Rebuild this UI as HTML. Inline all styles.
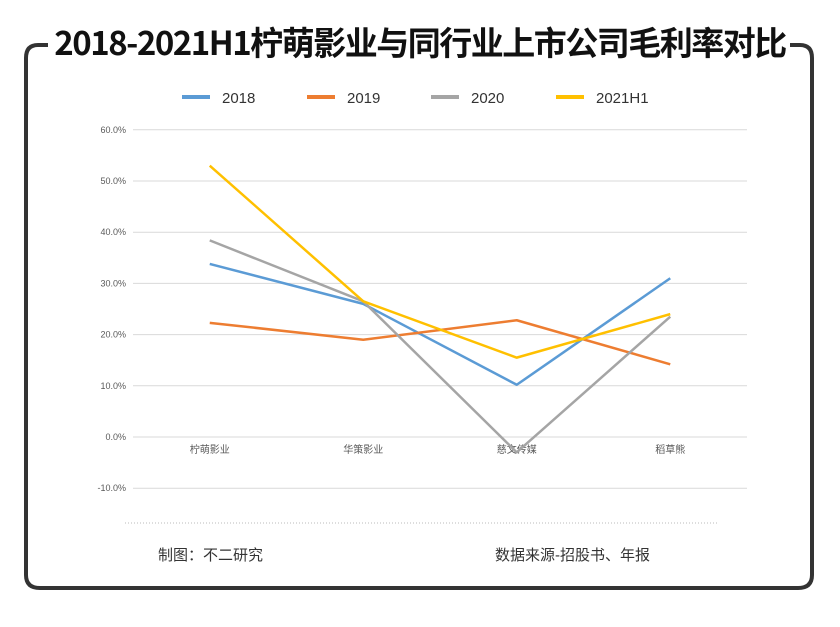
<!DOCTYPE html>
<html><head><meta charset="utf-8"><style>
body{margin:0;background:#fff;width:840px;height:622px;overflow:hidden;font-family:"Liberation Sans","Noto Sans CJK SC",sans-serif;}
</style></head><body>
<svg id="chart" width="840" height="622" xmlns="http://www.w3.org/2000/svg">
<path d="M48,45 L38,45 Q26,45 26,58 L26,575 Q26,588 40,588 L798,588 Q812,588 812,575 L812,58 Q812,45 800,45 L790,45" fill="none" stroke="#333" stroke-width="4"/>
<text x="420" y="55" text-anchor="middle" font-size="33" font-weight="bold" fill="#111" font-family="'Noto Sans CJK SC',sans-serif" letter-spacing="-1.5">2018-2021H1柠萌影业与同行业上市公司毛利率对比</text>
<g id="legend"></g>
<g id="grid"></g><g id="lines"></g>
<line x1="125" y1="523" x2="718" y2="523" stroke="#bbb" stroke-dasharray="1,2"/>
<text x="158" y="560" font-size="15" fill="#333">制图：不二研究</text>
<text x="495" y="560" font-size="15" fill="#333">数据来源-招股书、年报</text>
</svg>
<script>
const categories=["柠萌影业","华策影业","慈文传媒","稻草熊"];
const seriesNames=["2018","2019","2020","2021H1"];
const s2018=[33.8,26,10.2,31];
const s2019=[22.3,19,22.8,14.2];
const s2020=[38.4,26.5,-3,23.5];
const s2021=[53,26.5,15.5,24];
const ticks=[60,50,40,30,20,10,0,-10];
const colors=["#5b9bd5","#ed7d31","#a5a5a5","#ffc000"];
const NS="http://www.w3.org/2000/svg";
const y=v=>437-v*5.12;
const x=i=>133+153.5*(i+0.5);
function mk(t,a,p){const e=document.createElementNS(NS,t);for(const k in a)e.setAttribute(k,a[k]);p.appendChild(e);return e;}
const g=document.getElementById('grid');
ticks.forEach(t=>{
 const l=mk('line',{x1:133,x2:747,y1:y(t),y2:y(t),stroke:'#d9d9d9'},g);
 
 
 const tx=mk('text',{x:126,y:y(t)+3,'text-anchor':'end','font-size':9,fill:'#595959'},g);
 tx.textContent=t.toFixed(1)+'%';
 
 
});
categories.forEach((c,i)=>{
 const tx=mk('text',{x:x(i),y:453,'text-anchor':'middle','font-size':10,fill:'#595959'},g);
 tx.textContent=c;
 
 
});
const L=document.getElementById('lines');
[s2018,s2019,s2020,s2021].forEach((s,k)=>{
 const p=mk('polyline',{points:s.map((v,i)=>x(i)+','+y(v)).join(' '),fill:'none',stroke:colors[k],'stroke-width':2.5,'stroke-linejoin':'round'},L);
 
 
});
const lg=document.getElementById('legend');
const lx=[182,307,431,556];
seriesNames.forEach((n,k)=>{
 const r=mk('rect',{x:lx[k],y:95,width:28,height:4,fill:colors[k]},lg);
 
 
 const t=mk('text',{x:lx[k]+40,y:103,'font-size':15,fill:'#333'},lg);
 t.textContent=n;
 
 
});
</script>
</body></html>
